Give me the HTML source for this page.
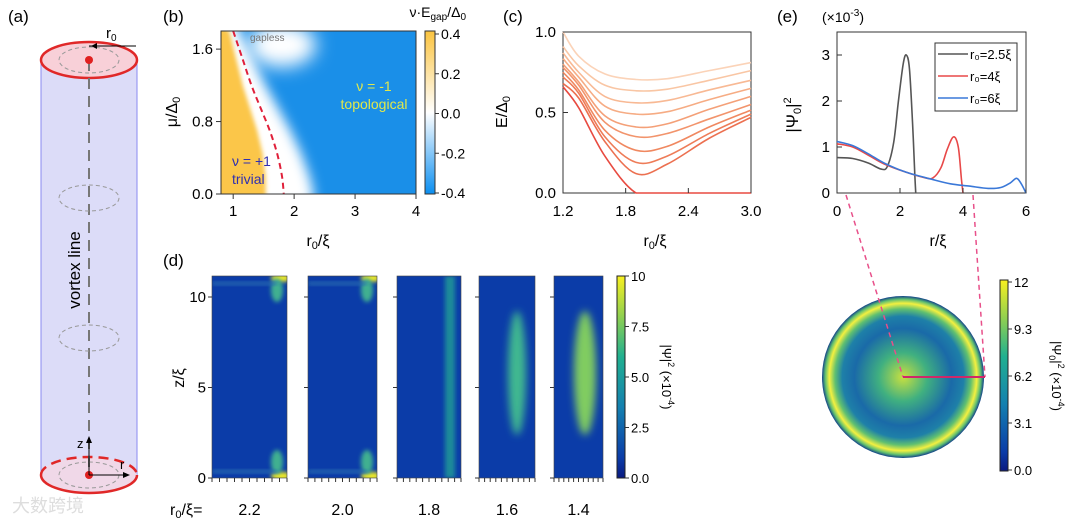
<!DOCTYPE html>
<html><head><meta charset="utf-8"><style>
body{margin:0;background:#fff;}
svg{display:block;font-family:"Liberation Sans","Noto Sans CJK SC",sans-serif;}
</style></head><body>
<svg id="fig" width="1080" height="522" viewBox="0 0 1080 522">
<defs>
<linearGradient id="cbB" x1="0" y1="0" x2="0" y2="1"><stop offset="0" stop-color="#fbc440"/><stop offset="0.5" stop-color="#ffffff"/><stop offset="1" stop-color="#0a8ef0"/></linearGradient>
<linearGradient id="cbD" x1="0" y1="1" x2="0" y2="0"><stop offset="0" stop-color="#0a1a80"/><stop offset="0.1" stop-color="#0b3ca8"/><stop offset="0.35" stop-color="#1480b0"/><stop offset="0.6" stop-color="#20b090"/><stop offset="0.8" stop-color="#90d050"/><stop offset="1" stop-color="#f8f020"/></linearGradient>
<radialGradient id="disk"><stop offset="0" stop-color="#c8e040"/><stop offset="0.3" stop-color="#40b080"/><stop offset="0.6" stop-color="#1a6aa8"/><stop offset="0.75" stop-color="#1e80a8"/><stop offset="0.84" stop-color="#60c070"/><stop offset="0.91" stop-color="#f4f040"/><stop offset="0.96" stop-color="#60c070"/><stop offset="1" stop-color="#10408a"/></radialGradient>
<filter id="bl4" x="-50%" y="-50%" width="200%" height="200%"><feGaussianBlur stdDeviation="4"/></filter>
<filter id="bl2" x="-50%" y="-50%" width="200%" height="200%"><feGaussianBlur stdDeviation="2"/></filter>
<filter id="bl8" x="-50%" y="-50%" width="200%" height="200%"><feGaussianBlur stdDeviation="9"/></filter>
<filter id="bl6" x="-50%" y="-50%" width="200%" height="200%"><feGaussianBlur stdDeviation="6"/></filter>
<clipPath id="clipB"><rect x="221" y="31" width="195" height="163"/></clipPath>
</defs>

<!-- Panel (a) -->
<g>
<text x="8" y="22" font-size="17">(a)</text>
<rect x="41" y="60" width="96" height="415" fill="#dcdcf8" stroke="none"/>
<line x1="41" y1="60" x2="41" y2="475" stroke="#8a8af0"/>
<line x1="137" y1="60" x2="137" y2="475" stroke="#8a8af0"/>
<ellipse cx="89" cy="60" rx="48" ry="18" fill="#f8d0d8" stroke="#e02828" stroke-width="2.5"/>
<ellipse cx="89" cy="475" rx="48" ry="18" fill="#f0d8e8" stroke="none"/>
<path d="M41 475 A48 18 0 0 0 137 475" fill="none" stroke="#e02828" stroke-width="2.5"/>
<path d="M41 475 A48 18 0 0 1 137 475" fill="none" stroke="#e02828" stroke-width="2.5" stroke-dasharray="10,6"/>
<line x1="89" y1="60" x2="89" y2="475" stroke="#777" stroke-width="2" stroke-dasharray="11,7"/>
<g fill="none" stroke="#999" stroke-dasharray="4,3">
<ellipse cx="89" cy="60" rx="30" ry="13"/><ellipse cx="89" cy="198" rx="30" ry="13"/><ellipse cx="89" cy="338" rx="30" ry="13"/><ellipse cx="89" cy="475" rx="30" ry="13"/></g>
<circle cx="89" cy="60" r="4" fill="#e02020"/><circle cx="89" cy="475" r="4" fill="#e02020"/>
<line x1="89" y1="46" x2="136" y2="46" stroke="#000"/><path d="M91 46 l6 -3 v6z"/>
<text x="106" y="38" font-size="15">r<tspan font-size="10" dy="3">0</tspan></text>
<line x1="89" y1="475" x2="89" y2="440" stroke="#000"/><path d="M89 436 l-3 7 h6z"/>
<line x1="89" y1="475" x2="126" y2="475" stroke="#000"/><path d="M130 475 l-7 -3 v6z"/>
<text x="77" y="448" font-size="13">z</text><text x="120" y="469" font-size="13">r</text>
<text transform="translate(80,270) rotate(-90)" text-anchor="middle" font-size="17">vortex line</text>
<text x="12" y="512" font-size="18" fill="#ddd">大数跨境</text>
</g>

<!-- Panel (b) -->
<g>
<text x="163" y="22" font-size="17">(b)</text>
<g clip-path="url(#clipB)">
<rect x="221" y="31" width="195" height="163" fill="#1a8fe8"/>
<ellipse cx="282" cy="45" rx="34" ry="22" fill="#fff" filter="url(#bl8)"/>
<path id="whiteband" fill="#fff" filter="url(#bl6)"/>
<path id="orangeRegion" fill="#fbc648" filter="url(#bl2)"/>
<path id="phaseBoundary" fill="none" stroke="#e0203a" stroke-width="2" stroke-dasharray="6,4"/>
</g>
<rect x="221" y="31" width="195" height="163" fill="none" stroke="#333"/>
<g id="axB" font-size="15"></g>
<text x="250" y="41" font-size="10" fill="#777">gapless</text>
<text x="374" y="91" font-size="14" fill="#e2e84a" text-anchor="middle">ν = -1</text>
<text x="374" y="109" font-size="14" fill="#e2e84a" text-anchor="middle">topological</text>
<text x="232" y="166" font-size="14" fill="#3030b0">ν = +1</text>
<text x="232" y="184" font-size="14" fill="#3030b0">trivial</text>
<text transform="translate(177,112) rotate(-90)" text-anchor="middle" font-size="16">μ/Δ<tspan font-size="11" dy="3">0</tspan></text>
<text x="318" y="246" text-anchor="middle" font-size="16">r<tspan font-size="11" dy="3">0</tspan><tspan dy="-3">/ξ</tspan></text>
<rect x="425" y="31" width="10" height="163" fill="url(#cbB)" stroke="#333"/>
<g id="cbBt" font-size="14"></g>
<text x="466" y="17" font-size="14" text-anchor="end">ν·E<tspan font-size="10" dy="3">gap</tspan><tspan dy="-3">/Δ</tspan><tspan font-size="10" dy="3">0</tspan></text>
</g>

<!-- Panel (c) -->
<g>
<text x="503" y="22" font-size="17">(c)</text>
<rect x="563" y="32" width="188" height="161" fill="none" stroke="#333"/>
<g id="linesC"></g>
<g id="axC" font-size="15"></g>
<text transform="translate(507,112) rotate(-90)" text-anchor="middle" font-size="16">E/Δ<tspan font-size="11" dy="3">0</tspan></text>
<text x="655" y="246" text-anchor="middle" font-size="16">r<tspan font-size="11" dy="3">0</tspan><tspan dy="-3">/ξ</tspan></text>
</g>

<!-- Panel (e) -->
<g>
<text x="777" y="22" font-size="17">(e)</text>
<text x="822" y="22" font-size="14">(×10<tspan font-size="10" dy="-6">-3</tspan><tspan dy="6">)</tspan></text>
<rect x="837" y="32" width="189" height="161" fill="none" stroke="#333"/>
<g id="linesE"></g>
<g id="axE" font-size="15"></g>
<rect x="935" y="43" width="82" height="68" fill="#fff" stroke="#333"/>
<g id="legE" font-size="13"></g>
<text transform="translate(798,115) rotate(-90)" text-anchor="middle" font-size="17">|Ψ<tspan font-size="11" dy="3">0</tspan><tspan dy="-3">|</tspan><tspan font-size="11" dy="-7">2</tspan></text>
<text x="938" y="246" text-anchor="middle" font-size="16">r/ξ</text>
<circle cx="903" cy="377" r="81" fill="url(#disk)"/>
<line x1="846" y1="195" x2="903" y2="377" stroke="#e8508a" stroke-width="1.5" stroke-dasharray="5,4"/>
<line x1="973" y1="195" x2="985" y2="377" stroke="#e8508a" stroke-width="1.5" stroke-dasharray="5,4"/>
<line x1="903" y1="377" x2="985" y2="377" stroke="#d02868" stroke-width="2"/>
<rect x="1000" y="280" width="8" height="191" fill="url(#cbD)" stroke="#222"/>
<g id="cbEt" font-size="13"></g>
<text transform="translate(1052,376) rotate(90)" text-anchor="middle" font-size="13">|Ψ<tspan font-size="9" dy="3">0</tspan><tspan dy="-3">|</tspan><tspan font-size="9" dy="-6">2</tspan><tspan dy="6"> (×10</tspan><tspan font-size="9" dy="-6">-4</tspan><tspan dy="6">)</tspan></text>
</g>

<!-- Panel (d) -->
<g>
<text x="163" y="266" font-size="17">(d)</text>
<g id="heatD"></g>
<g id="axD" font-size="15"></g>
<text transform="translate(184,378) rotate(-90)" text-anchor="middle" font-size="16">z/ξ</text>
<text x="170" y="515" font-size="16">r<tspan font-size="11" dy="3">0</tspan><tspan dy="-3">/ξ=</tspan></text>
<rect x="617" y="276" width="8" height="202" fill="url(#cbD)" stroke="#222"/>
<g id="cbDt" font-size="13"></g>
<text transform="translate(662,377) rotate(90)" text-anchor="middle" font-size="13">|Ψ|<tspan font-size="9" dy="-6">2</tspan><tspan dy="6"> (×10</tspan><tspan font-size="9" dy="-6">-4</tspan><tspan dy="6">)</tspan></text>
</g>
</svg>
<script>
// ---- Panel (b) data ----
const boundaryR = [1.0, 1.15, 1.3, 1.45, 1.6, 1.72, 1.8, 1.83];
const boundaryMu = [1.8, 1.5, 1.2, 0.95, 0.7, 0.45, 0.2, 0.0];
const bXTicks = [1, 2, 3, 4];
const bYTicks = [0.0, 0.8, 1.6];
const bCbTicks = [0.4, 0.2, 0.0, -0.2, -0.4];
// ---- Panel (c) data ----
const cR = [1.2, 1.35, 1.6, 1.9, 2.2, 2.6, 3.0];
const cCurves = [
 [1.0, 0.85, 0.74, 0.705, 0.71, 0.76, 0.81],
 [0.91, 0.79, 0.67, 0.635, 0.645, 0.70, 0.76],
 [0.87, 0.75, 0.60, 0.56, 0.575, 0.64, 0.70],
 [0.835, 0.72, 0.54, 0.49, 0.505, 0.58, 0.65],
 [0.80, 0.69, 0.48, 0.41, 0.43, 0.52, 0.60],
 [0.78, 0.67, 0.44, 0.35, 0.37, 0.46, 0.55],
 [0.75, 0.64, 0.39, 0.265, 0.29, 0.41, 0.515],
 [0.72, 0.62, 0.35, 0.19, 0.23, 0.37, 0.49],
 [0.68, 0.59, 0.32, 0.12, 0.18, 0.34, 0.47],
 [0.66, 0.53, 0.23, 0.0, 0.0, 0.0, 0.0]
];
const cColors = ["#fbd3b8","#f9c6a4","#f8b994","#f6ac84","#f4a078","#f2946c","#f08860","#ee7c58","#ec7050","#e84a40"];
const cXTicks = [1.2, 1.8, 2.4, 3.0];
const cYTicks = [0.0, 0.5, 1.0];
// ---- Panel (e) data ----
const eGrayR = [0, 0.5, 1.0, 1.4, 1.6, 1.8, 1.95, 2.1, 2.2, 2.3, 2.4, 2.47, 2.5];
const eGrayV = [0.77, 0.75, 0.65, 0.52, 0.58, 1.1, 2.0, 2.8, 3.0, 2.7, 1.5, 0.4, 0];
const eRedR = [0, 0.5, 1, 1.5, 2.2, 2.8, 3.05, 3.3, 3.5, 3.7, 3.85, 3.95, 4.0];
const eRedV = [1.07, 1.0, 0.82, 0.63, 0.45, 0.33, 0.33, 0.55, 0.95, 1.22, 1.0, 0.3, 0];
const eBlueR = [0, 0.5, 1, 1.5, 2.2, 3, 3.6, 4.2, 4.8, 5.2, 5.5, 5.7, 5.85, 6.0];
const eBlueV = [1.12, 1.03, 0.85, 0.65, 0.45, 0.3, 0.2, 0.15, 0.1, 0.12, 0.22, 0.32, 0.2, 0];
const eLegend = ["r₀=2.5ξ", "r₀=4ξ", "r₀=6ξ"];
const eXTicks = [0, 2, 4, 6];
const eYTicks = [0, 1, 2, 3];
const eCbTicks = ["0.0", "3.1", "6.2", "9.3", "12"];
// ---- Panel (d) data ----
const dRadii = ["2.2", "2.0", "1.8", "1.6", "1.4"];
const dYTicks = [0, 5, 10];
const dCbTicks = ["0.0", "2.5", "5.0", "7.5", "10"];

const NS = "http://www.w3.org/2000/svg";
function mk(tag, attrs, parent) { const e = document.createElementNS(NS, tag); for (const k in attrs) e.setAttribute(k, attrs[k]); parent.appendChild(e); return e; }
function txt(parent, x, y, s, anchor, size) { const t = mk("text", {x: x, y: y, "text-anchor": anchor || "middle"}, parent); if (size) t.setAttribute("font-size", size); t.textContent = s; return t; }
function smooth(pts, yMax) {
  const cl = y => (yMax !== undefined ? Math.min(y, yMax) : y);
  let d = "M" + pts[0][0] + " " + pts[0][1];
  for (let i = 0; i < pts.length - 1; i++) {
    const p0 = pts[Math.max(0, i - 1)], p1 = pts[i], p2 = pts[i + 1], p3 = pts[Math.min(pts.length - 1, i + 2)];
    const c1x = p1[0] + (p2[0] - p0[0]) / 6, c1y = cl(p1[1] + (p2[1] - p0[1]) / 6);
    const c2x = p2[0] - (p3[0] - p1[0]) / 6, c2y = cl(p2[1] - (p3[1] - p1[1]) / 6);
    d += " C" + c1x + " " + c1y + " " + c2x + " " + c2y + " " + p2[0] + " " + p2[1];
  }
  return d;
}

// panel b
const bx = v => 221 + (v - 0.8) / 3.2 * 195, by = v => 194 - v / 1.8 * 163;
document.getElementById("phaseBoundary").setAttribute("d", smooth(boundaryR.map((r, i) => [bx(r), by(boundaryMu[i])])));
document.getElementById("orangeRegion").setAttribute("d", "M210 20 " + boundaryR.map((r, i) => "L" + (bx(r) - 4 - 14 * (1 - boundaryMu[i] / 1.8)) + " " + by(boundaryMu[i])).join(" ") + " L" + (bx(1.83) - 18) + " 205 L210 205Z");
document.getElementById("whiteband").setAttribute("d", "M" + (bx(1.0) + 4) + " 20 " + boundaryR.map((r, i) => "L" + (bx(r) + 6 + 24 * (1 - boundaryMu[i] / 1.8)) + " " + by(boundaryMu[i])).join(" ") + " L" + (bx(1.83) + 28) + " 205 L" + (bx(1.83) - 30) + " 205 L" + (bx(1.0) - 20) + " 20Z");
const axB = document.getElementById("axB");
bXTicks.forEach(v => { mk("line", {x1: bx(v), y1: 194, x2: bx(v), y2: 199, stroke: "#333"}, axB); txt(axB, bx(v), 216, String(v)); });
bYTicks.forEach(v => { mk("line", {x1: 216, y1: by(v), x2: 221, y2: by(v), stroke: "#333"}, axB); txt(axB, 213, by(v) + 5, v.toFixed(1), "end"); });
const cbBt = document.getElementById("cbBt");
bCbTicks.forEach(v => { const y = 34 + (0.4 - v) / 0.8 * 159; mk("line", {x1: 435, y1: y, x2: 439, y2: y, stroke: "#333"}, cbBt); txt(cbBt, 441, y + 5, v.toFixed(1), "start"); });

// panel c
const cx = v => 563 + (v - 1.2) / 1.8 * 188, cy = v => 193 - v * 161;
const linesC = document.getElementById("linesC");
cCurves.forEach((c, k) => {
  const p = mk("path", {d: smooth(c.map((v, i) => [cx(cR[i]), cy(v)]), cy(0)), fill: "none", stroke: cColors[k], "stroke-width": 1.6}, linesC);
  
  
});
const axC = document.getElementById("axC");
cXTicks.forEach(v => { mk("line", {x1: cx(v), y1: 193, x2: cx(v), y2: 188, stroke: "#333"}, axC); txt(axC, cx(v), 216, v.toFixed(1)); });
cYTicks.forEach(v => { mk("line", {x1: 563, y1: cy(v), x2: 568, y2: cy(v), stroke: "#333"}, axC); txt(axC, 556, cy(v) + 5, v.toFixed(1), "end"); });

// panel e
const ex = v => 837 + v / 6 * 189, ey = v => 193 - v * 46;
const linesE = document.getElementById("linesE");
[[eGrayR, eGrayV, "#555"], [eRedR, eRedV, "#e84848"], [eBlueR, eBlueV, "#3a78d8"]].forEach(s => {
  const p = mk("path", {d: smooth(s[0].map((r, i) => [ex(r), ey(s[1][i])]), ey(0)), fill: "none", stroke: s[2], "stroke-width": 1.6}, linesE);
  
  
});
const axE = document.getElementById("axE");
eXTicks.forEach(v => { mk("line", {x1: ex(v), y1: 193, x2: ex(v), y2: 188, stroke: "#333"}, axE); txt(axE, ex(v), 216, String(v)); });
eYTicks.forEach(v => { mk("line", {x1: 837, y1: ey(v), x2: 842, y2: ey(v), stroke: "#333"}, axE); txt(axE, 830, ey(v) + 5, String(v), "end"); });
const legE = document.getElementById("legE");
["#555", "#e84848", "#3a78d8"].forEach((c, i) => {
  const y = 54 + i * 22;
  mk("line", {x1: 938, y1: y, x2: 968, y2: y, stroke: c, "stroke-width": 1.6}, legE);
  const t = txt(legE, 970, y + 5, eLegend[i], "start");
  
  
});
const cbEt = document.getElementById("cbEt");
eCbTicks.forEach((s, i) => { const y = 470 - i * 47; mk("line", {x1: 1008, y1: y, x2: 1012, y2: y, stroke: "#333"}, cbEt); txt(cbEt, 1014, y + 5, s, "start"); });

// panel d
const dPanels = [[212, 287], [308, 377], [397, 461], [479, 535], [554, 603]];
const dy = v => 478 - v / 10 * 181;
const heatD = document.getElementById("heatD");
dPanels.forEach((p, k) => {
  const g = mk("g", {}, heatD);
  
  
  const w = p[1] - p[0];
  const cid = "cl" + k;
  const cp = mk("clipPath", {id: cid}, g); mk("rect", {x: p[0], y: 276, width: w, height: 202}, cp);
  const inner = mk("g", {"clip-path": "url(#" + cid + ")"}, g);
  mk("rect", {x: p[0], y: 276, width: w, height: 202, fill: "#0b3ca8"}, inner);
  const r = parseFloat(dRadii[k]);
  if (r >= 2.0) {
    mk("ellipse", {cx: p[1] - 6, cy: 278, rx: 10, ry: 4, fill: "#f8f020", filter: "url(#bl2)"}, inner);
    mk("ellipse", {cx: p[1] - 6, cy: 476, rx: 10, ry: 4, fill: "#f8f020", filter: "url(#bl2)"}, inner);
    mk("ellipse", {cx: p[1] - 10, cy: 290, rx: 6, ry: 12, fill: "#40b090", filter: "url(#bl2)"}, inner);
    mk("ellipse", {cx: p[1] - 10, cy: 462, rx: 6, ry: 12, fill: "#40b090", filter: "url(#bl2)"}, inner);
    mk("rect", {x: p[0], y: 282, width: w - 10, height: 3, fill: "#2a70b0", filter: "url(#bl2)"}, inner);
    mk("rect", {x: p[0], y: 470, width: w - 10, height: 3, fill: "#2a70b0", filter: "url(#bl2)"}, inner);
  } else if (r >= 1.8) {
    mk("rect", {x: p[1] - 16, y: 276, width: 10, height: 202, fill: "#1a8a9a", filter: "url(#bl2)"}, inner);
  } else {
    const rx = r > 1.5 ? 9 : 11;
    mk("ellipse", {cx: p[1] - 18, cy: dy(5.8), rx: rx, ry: 62, fill: r > 1.5 ? "#40b890" : "#80cc60", filter: "url(#bl4)"}, inner);
  }
  mk("rect", {x: p[0], y: 276, width: w, height: 202, fill: "none", stroke: "#444", "stroke-width": 0.6}, g);
  for (let i = 0; i <= 10; i++) { const x = p[0] + i * w / 10; mk("line", {x1: x, y1: 478, x2: x, y2: 482, stroke: "#333"}, g); }
  dYTicks.forEach(v => mk("line", {x1: p[0] - 4, y1: dy(v), x2: p[0], y2: dy(v), stroke: "#333"}, g));
  const t = txt(heatD, (p[0] + p[1]) / 2, 515, dRadii[k], "middle", 16);
  
  
});
const axD = document.getElementById("axD");
dYTicks.forEach(v => txt(axD, 206, dy(v) + 5, String(v), "end"));
const cbDt = document.getElementById("cbDt");
dCbTicks.forEach((s, i) => { const y = 478 - i * 50.5; mk("line", {x1: 625, y1: y, x2: 629, y2: y, stroke: "#333"}, cbDt); txt(cbDt, 631, y + 5, s, "start"); });
</script>
</body></html>
